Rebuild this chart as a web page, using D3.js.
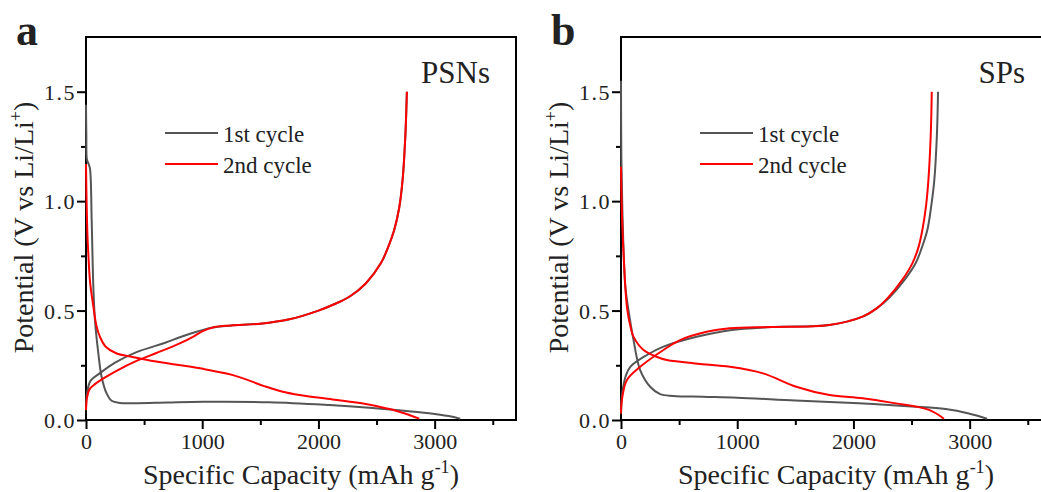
<!DOCTYPE html>
<html>
<head>
<meta charset="utf-8">
<script src="https://cdn.jsdelivr.net/npm/d3@7"></script>
<style>
  body { margin: 0; background: #fff; }
  text { font-family: "Liberation Serif", "Times New Roman", serif; fill: #222; }
</style>
</head>
<body>
<script>
// ticks
var xMajor = [0, 1000, 2000, 3000],
	xMinor = [500, 1500, 2500, 3500],
	yMajor = [0, 0.5, 1.0, 1.5],
	yMinor = [0.25, 0.75, 1.25];

var legendLabels = ["1st cycle", "2nd cycle"];

// panel a (PSNs): [capacity mAh/g, potential V]
var psnFirstDis = [[0, 1.44], [3, 1.30], [8, 1.19], [22, 1.17], [34, 1.15], [49, 0.91], [63, 0.61],
	[77, 0.457], [106, 0.305], [134, 0.198], [177, 0.122], [220, 0.088], [292, 0.078], [435, 0.077],
	[700, 0.080], [1007, 0.083], [1579, 0.081], [2094, 0.068], [2438, 0.056], [2667, 0.046],
	[2953, 0.031], [3120, 0.018], [3220, 0.006]];
var psnFirstCha = [[0, 0.045], [8, 0.12], [40, 0.18], [120, 0.214], [250, 0.262], [435, 0.31],
	[692, 0.355], [807, 0.378], [950, 0.403], [1080, 0.422], [1250, 0.432], [1500, 0.44], [1750, 0.46],
	[2000, 0.5], [2140, 0.53], [2266, 0.563], [2409, 0.625], [2538, 0.717], [2600, 0.79], [2652, 0.868],
	[2695, 0.97], [2724, 1.096], [2748, 1.3], [2761, 1.5]];
var psnSecondDis = [[0, 1.17], [5, 1.0], [12, 0.85], [20, 0.76], [35, 0.63], [63, 0.52], [90, 0.43],
	[120, 0.38], [170, 0.335], [260, 0.305], [400, 0.288], [549, 0.272], [750, 0.255], [980, 0.236],
	[1265, 0.205], [1551, 0.152], [1694, 0.129], [1837, 0.114], [2122, 0.094], [2408, 0.073],
	[2695, 0.038], [2867, 0.006]];
var psnSecondCha = [[0, 0.045], [8, 0.10], [30, 0.14], [80, 0.165], [150, 0.19], [263, 0.225],
	[435, 0.27], [600, 0.305], [807, 0.35], [920, 0.38], [1000, 0.405], [1100, 0.424], [1250, 0.432],
	[1500, 0.44], [1750, 0.46], [2000, 0.5], [2140, 0.53], [2266, 0.563], [2409, 0.625], [2538, 0.717],
	[2600, 0.79], [2652, 0.868], [2695, 0.97], [2724, 1.096], [2748, 1.3], [2761, 1.5]];

// panel b (SPs)
var spFirstDis = [[0, 1.55], [3, 1.2], [12, 0.95], [22, 0.78], [37, 0.61], [65, 0.50], [108, 0.365],
	[165, 0.228], [251, 0.152], [337, 0.118], [450, 0.11], [700, 0.106], [1000, 0.102], [1500, 0.089],
	[2000, 0.078], [2500, 0.062], [2793, 0.05], [2993, 0.03], [3150, 0.006]];
var spFirstCha = [[0, 0.03], [10, 0.12], [40, 0.2], [80, 0.243], [223, 0.297], [365, 0.335],
	[651, 0.38], [937, 0.41], [1300, 0.425], [1794, 0.434], [2079, 0.472], [2200, 0.51], [2310, 0.56],
	[2440, 0.64], [2536, 0.717], [2590, 0.79], [2636, 0.868], [2670, 0.98], [2696, 1.096], [2718, 1.3],
	[2728, 1.5]];
var spSecondDis = [[0, 1.157], [5, 1.0], [12, 0.88], [22, 0.76], [51, 0.517], [80, 0.43], [108, 0.38],
	[194, 0.32], [300, 0.29], [394, 0.274], [508, 0.266], [700, 0.255], [937, 0.243], [1222, 0.213],
	[1508, 0.152], [1794, 0.114], [2079, 0.099], [2365, 0.076], [2650, 0.046], [2779, 0.006]];
var spSecondCha = [[0, 0.03], [10, 0.1], [51, 0.183], [165, 0.243], [365, 0.32], [508, 0.365],
	[737, 0.403], [937, 0.419], [1300, 0.425], [1794, 0.434], [2079, 0.472], [2200, 0.51], [2300, 0.56],
	[2420, 0.64], [2508, 0.717], [2560, 0.79], [2593, 0.868], [2625, 0.98], [2645, 1.096], [2665, 1.3],
	[2674, 1.5]];

var colors = ["#555555", "#ff0000"];

var width = 430, height = 383;

var svg = d3.select("body").append("svg")
	.attr("width", 1041)
	.attr("height", 492);

var x = d3.scaleLinear().domain([0, 3700]).range([0, width]);
var y = d3.scaleLinear().domain([0, 1.75]).range([height, 0]);

var line = d3.line()
	.x(function(d) { return x(d[0]); })
	.y(function(d) { return y(d[1]); })
	.curve(d3.curveCatmullRom.alpha(0.5));

function drawPanel(left, letter, name, curves) {
	var main = svg.append("g")
		.attr("transform", "translate(" + left + ",37)");

	// minor ticks first, then major with labels
	main.append("g")
		.attr("transform", "translate(0," + height + ")")
		.call(d3.axisBottom(x).tickValues(xMinor).tickSize(5).tickFormat(""));
	main.append("g")
		.attr("transform", "translate(0," + height + ")")
		.attr("class", "xaxis")
		.call(d3.axisBottom(x).tickValues(xMajor).tickSize(9).tickPadding(4).tickFormat(d3.format("d")));
	main.append("g")
		.call(d3.axisLeft(y).tickValues(yMinor).tickSize(5).tickFormat(""));
	main.append("g")
		.attr("class", "yaxis")
		.call(d3.axisLeft(y).tickValues(yMajor).tickSize(9).tickPadding(1).tickFormat(d3.format(".1f")));

	main.selectAll(".domain").remove();
	main.selectAll(".tick line").attr("stroke", "#000").attr("stroke-width", 2);
	main.selectAll(".tick text")
		.style("font-family", "'Liberation Serif', serif")
		.style("font-size", "22px")
		.attr("fill", "#222");
	main.selectAll(".yaxis .tick text").attr("dy", "0.34em").attr("letter-spacing", "1.5px");

	// frame
	main.append("rect")
		.attr("width", width)
		.attr("height", height)
		.attr("fill", "none")
		.attr("stroke", "#000")
		.attr("stroke-width", 2);

	// curves: first cycle grey under, second cycle red on top
	curves.forEach(function(c) {
		main.append("path")
			.datum(c.data)
			.attr("d", line)
			.attr("fill", "none")
			.attr("stroke", colors[c.cycle])
			.attr("stroke-width", 2);
	});

	// legend
	legendLabels.forEach(function(lab, i) {
		var ly = 96 + i * 31;
		main.append("line")
			.attr("x1", 79).attr("x2", 132)
			.attr("y1", ly).attr("y2", ly)
			.attr("stroke", colors[i])
			.attr("stroke-width", 2);
		main.append("text")
			.attr("x", 137).attr("y", ly + 9)
			.style("font-size", "23px")
			.text(lab);
	});

	main.append("text")
		.attr("x", 404).attr("y", 46)
		.attr("text-anchor", "end")
		.style("font-size", "31px")
		.text(name);

	// panel letter
	svg.append("text")
		.attr("x", left - 70).attr("y", 45)
		.style("font-size", "44px")
		.style("font-weight", "bold")
		.attr("fill", "#231f20")
		.text(letter);

	// x title
	var xt = main.append("text")
		.attr("x", width / 2).attr("y", height + 64)
		.attr("text-anchor", "middle")
		.style("font-size", "28px");
	xt.append("tspan").text("Specific Capacity (mAh g");
	xt.append("tspan").attr("dy", -11).style("font-size", "18px").text("-1");
	xt.append("tspan").attr("dy", 11).text(")");

	// y title
	var yt = main.append("text")
		.attr("transform", "translate(-53,190.5) rotate(-90)")
		.attr("text-anchor", "middle")
		.style("font-size", "28px");
	yt.append("tspan").text("Potential (V vs Li/Li");
	yt.append("tspan").attr("dy", -11).style("font-size", "18px").text("+");
	yt.append("tspan").attr("dy", 11).text(")");
}

drawPanel(86, "a", "PSNs", [
	{cycle: 0, data: psnFirstDis}, {cycle: 0, data: psnFirstCha},
	{cycle: 1, data: psnSecondDis}, {cycle: 1, data: psnSecondCha}
]);
drawPanel(621, "b", "SPs", [
	{cycle: 0, data: spFirstDis}, {cycle: 0, data: spFirstCha},
	{cycle: 1, data: spSecondDis}, {cycle: 1, data: spSecondCha}
]);
</script>
</body>
</html>
